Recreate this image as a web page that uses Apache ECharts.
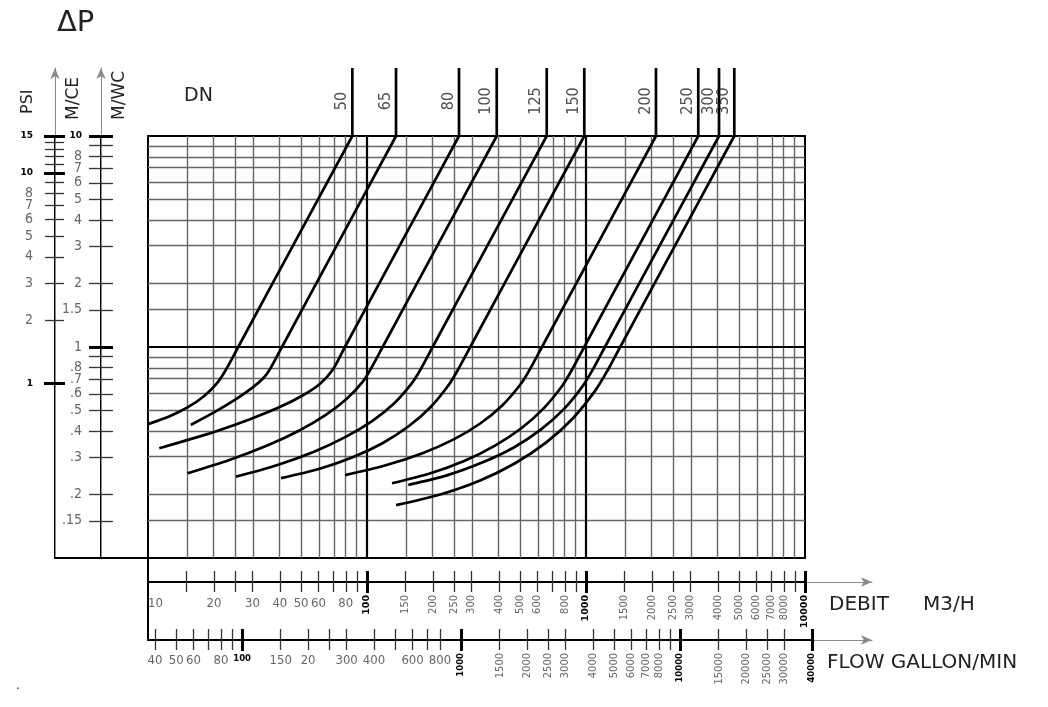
<!DOCTYPE html>
<html><head><meta charset="utf-8">
<script src="https://cdn.jsdelivr.net/npm/echarts@6/dist/echarts.min.js"></script>
<style>html,body{margin:0;padding:0;background:#fff}#c{width:1048px;height:707px}</style>
</head><body><div id="c"></div>
<script>
// ------------------------------------------------------------------ data
const DN_LABELS = ['50','65','80','100','125','150','200','250','300','350'];

// flow (m3/h) and pressure drop (m water column)
const Q_DN50   = [10, 12.56, 15.28, 18.0, 20.53, 22.66, 25.82, 45.6, 85.7];
const DP_DN50  = [0.431, 0.470, 0.520, 0.584, 0.668, 0.778, 1, 2.98, 10];
const Q_DN65   = [15.67, 20.38, 25.23, 29.78, 33.5, 35.87, 40.9, 72.2, 135.7];
const DP_DN65  = [0.427, 0.495, 0.566, 0.638, 0.709, 0.778, 1, 2.98, 10];
const Q_DN80   = [11.26, 15.36, 20.36, 29.44, 39.94, 50.8, 60.7, 69.6, 79.3, 140, 263.1];
const DP_DN80  = [0.331, 0.364, 0.398, 0.456, 0.519, 0.589, 0.666, 0.778, 1, 2.98, 10];
const Q_DN100  = [15.18, 23.71, 35.0, 48.9, 64.6, 80.8, 95.5, 103.4, 117.9, 208.1, 391.2];
const DP_DN100 = [0.252, 0.292, 0.341, 0.401, 0.475, 0.568, 0.684, 0.778, 1, 2.98, 10];
const Q_DN125  = [25.23, 39.03, 57.3, 79.9, 105.9, 133.6, 159.7, 175.0, 199.4, 352.1, 661.6];
const DP_DN125 = [0.243, 0.276, 0.319, 0.375, 0.447, 0.543, 0.670, 0.778, 1, 2.98, 10];
const Q_DN150  = [40.49, 60.26, 85.97, 117.6, 154.4, 194.4, 234.6, 259.8, 296.1, 522.8, 982.2];
const DP_DN150 = [0.239, 0.264, 0.300, 0.350, 0.420, 0.517, 0.655, 0.778, 1, 2.98, 10];
const Q_DN200  = [79.37, 121.7, 177.9, 247.5, 328.8, 415.6, 500.6, 552.1, 629.4, 1111, 2087];
const DP_DN200 = [0.247, 0.275, 0.313, 0.364, 0.434, 0.530, 0.662, 0.778, 1, 2.98, 10];
const Q_DN250  = [130.1, 194.8, 279.3, 384.2, 506.5, 640.4, 776.2, 861.3, 981.8, 1733, 3256];
const DP_DN250 = [0.226, 0.252, 0.289, 0.341, 0.412, 0.512, 0.652, 0.778, 1, 2.98, 10];
const Q_DN300  = [154.4, 233.4, 337.6, 468.1, 621.2, 790.1, 962.0, 1071, 1220, 2154, 4049];
const DP_DN300 = [0.222, 0.247, 0.284, 0.334, 0.406, 0.506, 0.649, 0.778, 1, 2.98, 10];
const Q_DN350  = [135.7, 215.9, 328.5, 476.6, 660.9, 874.1, 1104, 1258, 1433, 2531, 4755];
const DP_DN350 = [0.178, 0.200, 0.233, 0.282, 0.354, 0.461, 0.623, 0.778, 1, 2.98, 10];

const CURVES_Q  = [Q_DN50, Q_DN65, Q_DN80, Q_DN100, Q_DN125, Q_DN150, Q_DN200, Q_DN250, Q_DN300, Q_DN350];
const CURVES_DP = [DP_DN50, DP_DN65, DP_DN80, DP_DN100, DP_DN125, DP_DN150, DP_DN200, DP_DN250, DP_DN300, DP_DN350];

// axis ticks and labels
const MCE_TICKS = [10, 9, 8, 7, 6, 5, 4, 3, 2, 1.5, 1, 0.9, 0.8, 0.7, 0.6, 0.5, 0.4, 0.3, 0.2, 0.15];
const MCE_MAJOR = [10, 1];
const MCE_LABEL_VALUES = [10, 8, 7, 6, 5, 4, 3, 2, 1.5, 1, 0.8, 0.7, 0.6, 0.5, 0.4, 0.3, 0.2, 0.15];
const MCE_LABEL_TEXTS  = ['10','8','7','6','5','4','3','2','1.5','1','.8','.7','.6','.5','.4','.3','.2','.15'];
const MCE_BOLD = [10];

const PSI_TICKS = [15, 14, 13, 12, 11, 10, 9, 8, 7, 6, 5, 4, 3, 2, 1];
const PSI_MAJOR = [15, 10, 1];
const PSI_LABEL_VALUES = [15, 10, 8, 7, 6, 5, 4, 3, 2, 1];
const PSI_LABEL_TEXTS  = ['15','10','8','7','6','5','4','3','2','1'];
const PSI_BOLD = [15, 10, 1];

const M3H_TICKS = [15,20,25,30,40,50,60,70,80,90,150,200,250,300,400,500,600,700,800,900,
                   1500,2000,2500,3000,4000,5000,6000,7000,8000,9000];
const M3H_MAJOR = [100, 1000, 10000];
const M3H_FLAT_LABELS = [20, 30, 40, 50, 60, 80];
const M3H_FIRST_LABEL = [10];
const M3H_ROT_LABELS = [100,150,200,250,300,400,500,600,800,1000,1500,2000,2500,3000,4000,5000,6000,7000,8000,10000];
const M3H_BOLD = [100, 1000, 10000];

const GPM_TICKS = [40,50,60,70,80,90,150,200,250,300,400,500,600,700,800,
                   1500,2000,2500,3000,4000,5000,6000,7000,8000,9000,15000,20000,25000,30000];
const GPM_MAJOR = [100, 1000, 10000, 40000];
const GPM_FLAT_VALUES = [40, 50, 60, 80, 100, 150, 200, 300, 400, 600, 800];
const GPM_FLAT_TEXTS  = ['40','50','60','80','100','150','20','300','400','600','800'];
const GPM_ROT_LABELS = [1000,1500,2000,2500,3000,4000,5000,6000,7000,8000,10000,15000,20000,25000,30000,40000];
const GPM_BOLD = [100, 1000, 10000, 40000];

// grid lines inside the plot
const VGRID_MINOR = M3H_TICKS;
const VGRID_MAJOR = [100, 1000];
const HGRID_MINOR = [9, 8, 7, 6, 5, 4, 3, 2, 1.5, 0.9, 0.8, 0.7, 0.6, 0.5, 0.4, 0.3, 0.2, 0.15];
const HGRID_MAJOR = [1];

// ------------------------------------------------------------------ helpers / layout constants
const L = Math.log10;
const FONT = "'Liberation Sans Narrow','DejaVu Sans Condensed','Liberation Sans',sans-serif";
const TITLE_FONT = "'DejaVu Sans',sans-serif";
const LEADER_TOP_LOG = 1.3223;   // top end of DN leader lines (above the plot frame)
const LABEL_LOG = 1.166;         // DN label centre height
const PSI_MIN_LOG = -0.83;       // PSI scale at frame bottom
const GPM_MIN_LOG = L(40000) - 664 / 219;

function fmtFrom(values, texts, bold) {
  return function (v) {
    let bi = 0, bd = Infinity;
    for (let i = 0; i < values.length; i++) {
      const d = Math.abs(L(values[i]) - v);
      if (d < bd) { bd = d; bi = i; }
    }
    const t = texts ? texts[bi] : String(values[bi]);
    return (bold.indexOf(values[bi]) >= 0 ? '{b|' : '{r|') + t + '}';
  };
}
function rich(rs, bs) {
  return {
    r: {fontFamily: FONT, fontSize: rs, color: '#666'},
    b: {fontFamily: TITLE_FONT, fontSize: bs, fontWeight: 'bold', color: '#000'}
  };
}
function ax(o) {
  return {
    gridIndex: o.grid, type: 'value', min: o.min, max: o.max,
    position: o.position, offset: o.offset || 0,
    splitLine: {show: false}, splitArea: {show: false}, silent: true,
    axisLine: o.line ? {show: true, onZero: false, lineStyle: o.line,
      symbol: o.symbol || ['none', 'none'], symbolSize: o.symbolSize || [7, 11]} : {show: false, onZero: false},
    axisTick: o.ticks ? {show: true, customValues: o.ticks.map(L), length: o.len, inside: !!o.inside,
      lineStyle: {color: o.tickColor || '#333', width: o.tickWidth || 1.3}} : {show: false},
    axisLabel: o.labels ? {show: true, customValues: o.labels.map(L), formatter: o.fmt,
      rotate: o.rotate || 0, margin: o.margin, rich: o.rich, align: o.align,
      hideOverlap: false, showMinLabel: true, showMaxLabel: true} : {show: false}
  };
}

// ------------------------------------------------------------------ grids
const grids = [
  {left: 148, top: 136, width: 657, height: 422, show: true, borderColor: '#000', borderWidth: 2, backgroundColor: 'transparent'}, // 0 plot
  {left: 55,  top: 136, width: 750, height: 422}, // 1 psi thick
  {left: 101, top: 136, width: 704, height: 422}, // 2 m/ce thick
  {left: 55,  top: 68,  width: 750, height: 490}, // 3 psi arrow
  {left: 101, top: 68,  width: 704, height: 490}, // 4 m/ce arrow
  {left: 148, top: 558, width: 724, height: 24},  // 5 m3/h arrow
  {left: 148, top: 558, width: 657, height: 24},  // 6 m3/h thick
  {left: 148, top: 558, width: 724, height: 82},  // 7 gpm arrow
  {left: 148, top: 558, width: 664, height: 82}   // 8 gpm thick
].map(g => Object.assign({containLabel: false, outerBoundsMode: 'none'}, g));

const THICK = {color: '#000', width: 2};
const THIN = {color: '#8a8a8a', width: 1};
const ARROW = ['none', 'arrow'];

const xAxes = [
  ax({grid: 0, min: 1, max: 4, position: 'bottom'}),                      // 0 plot
  ax({grid: 1, min: 0, max: 1, position: 'bottom', line: THICK}),         // 1 frame bottom
  ax({grid: 2, min: 0, max: 1, position: 'bottom'}),                      // 2
  ax({grid: 3, min: 0, max: 1, position: 'bottom'}),                      // 3
  ax({grid: 4, min: 0, max: 1, position: 'bottom'}),                      // 4
  ax({grid: 5, min: 1, max: 1 + 724 * 3 / 657, position: 'bottom', line: THIN, symbol: ARROW, symbolSize: [7, 11]}), // 5
  ax({grid: 6, min: 1, max: 4, position: 'bottom', line: THICK, ticks: M3H_TICKS, len: 10,
      labels: M3H_FLAT_LABELS, fmt: fmtFrom(M3H_FLAT_LABELS, null, M3H_BOLD), margin: 15, rich: rich(13, 9)}), // 6
  ax({grid: 6, min: 1, max: 4, position: 'bottom', ticks: M3H_TICKS, len: 11, inside: true}),            // 7
  ax({grid: 6, min: 1, max: 4, position: 'bottom', ticks: M3H_MAJOR, len: 11, tickWidth: 3, tickColor: '#000',
      labels: M3H_ROT_LABELS, fmt: fmtFrom(M3H_ROT_LABELS, null, M3H_BOLD), rotate: 90, margin: 13, rich: rich(11, 9.5)}), // 8
  ax({grid: 6, min: 1, max: 4, position: 'bottom', ticks: M3H_MAJOR, len: 11, inside: true, tickWidth: 3, tickColor: '#000'}), // 9
  ax({grid: 6, min: 1, max: 4, position: 'bottom', labels: M3H_FIRST_LABEL,
      fmt: fmtFrom(M3H_FIRST_LABEL, null, []), margin: 15, rich: rich(13, 9), align: 'left'}),  // 10
  ax({grid: 7, min: GPM_MIN_LOG, max: GPM_MIN_LOG + 724 / 219, position: 'bottom', line: THIN, symbol: ARROW, symbolSize: [7, 11]}), // 11
  ax({grid: 8, min: GPM_MIN_LOG, max: L(40000), position: 'bottom', line: THICK, ticks: GPM_TICKS, len: 10,
      labels: GPM_FLAT_VALUES, fmt: fmtFrom(GPM_FLAT_VALUES, GPM_FLAT_TEXTS, GPM_BOLD), margin: 14, rich: rich(13, 8.5)}), // 12
  ax({grid: 8, min: GPM_MIN_LOG, max: L(40000), position: 'bottom', ticks: GPM_TICKS, len: 11, inside: true}), // 13
  ax({grid: 8, min: GPM_MIN_LOG, max: L(40000), position: 'bottom', ticks: GPM_MAJOR, len: 11, tickWidth: 3, tickColor: '#000',
      labels: GPM_ROT_LABELS, fmt: fmtFrom(GPM_ROT_LABELS, null, GPM_BOLD), rotate: 90, margin: 13, rich: rich(11, 8.5)}), // 14
  ax({grid: 8, min: GPM_MIN_LOG, max: L(40000), position: 'bottom', ticks: GPM_MAJOR, len: 11, inside: true, tickWidth: 3, tickColor: '#000'}) // 15
];

const yAxes = [
  ax({grid: 0, min: -1, max: 1, position: 'left'}),                                             // 0 plot
  ax({grid: 1, min: PSI_MIN_LOG, max: L(15), position: 'left', line: THICK, ticks: PSI_TICKS, len: 10,
      labels: PSI_LABEL_VALUES, fmt: fmtFrom(PSI_LABEL_VALUES, PSI_LABEL_TEXTS, PSI_BOLD), margin: 22, rich: rich(14, 9)}), // 1
  ax({grid: 1, min: PSI_MIN_LOG, max: L(15), position: 'left', ticks: PSI_TICKS, len: 9, inside: true}),     // 2
  ax({grid: 1, min: PSI_MIN_LOG, max: L(15), position: 'left', ticks: PSI_MAJOR, len: 11, tickWidth: 3, tickColor: '#000'}), // 3
  ax({grid: 1, min: PSI_MIN_LOG, max: L(15), position: 'left', ticks: PSI_MAJOR, len: 10, inside: true, tickWidth: 3, tickColor: '#000'}), // 4
  ax({grid: 2, min: -1, max: 1, position: 'left', line: THICK, ticks: MCE_TICKS, len: 12,
      labels: MCE_LABEL_VALUES, fmt: fmtFrom(MCE_LABEL_VALUES, MCE_LABEL_TEXTS, MCE_BOLD), margin: 19, rich: rich(14, 9)}), // 5
  ax({grid: 2, min: -1, max: 1, position: 'left', ticks: MCE_TICKS, len: 12, inside: true}),    // 6
  ax({grid: 2, min: -1, max: 1, position: 'left', ticks: MCE_MAJOR, len: 12, tickWidth: 3, tickColor: '#000'}), // 7
  ax({grid: 2, min: -1, max: 1, position: 'left', ticks: MCE_MAJOR, len: 12, inside: true, tickWidth: 3, tickColor: '#000'}), // 8
  ax({grid: 3, min: 0, max: 1, position: 'left', line: THIN, symbol: ARROW, symbolSize: [7, 11]}), // 9
  ax({grid: 4, min: 0, max: 1, position: 'left', line: THIN, symbol: ARROW, symbolSize: [7, 11]}), // 10
  ax({grid: 5, min: 0, max: 1, position: 'left'}),  // 11
  ax({grid: 6, min: 0, max: 1, position: 'left'}),  // 12
  ax({grid: 7, min: 0, max: 1, position: 'left'}),  // 13
  ax({grid: 8, min: 0, max: 1, position: 'left', line: THICK})  // 14
];

// ------------------------------------------------------------------ series
const MINOR_LINE = {color: '#666', width: 1.4, type: 'solid'};
const MAJOR_LINE = {color: '#000', width: 2.2, type: 'solid'};
const gridLines = []
  .concat(VGRID_MINOR.map(v => ({xAxis: L(v), lineStyle: MINOR_LINE})))
  .concat(HGRID_MINOR.map(v => ({yAxis: L(v), lineStyle: MINOR_LINE})))
  .concat(VGRID_MAJOR.map(v => ({xAxis: L(v), lineStyle: MAJOR_LINE})))
  .concat(HGRID_MAJOR.map(v => ({yAxis: L(v), lineStyle: MAJOR_LINE})));

const series = [{
  type: 'line', xAxisIndex: 0, yAxisIndex: 0, data: [[1, -1], [4, -1]], symbol: 'none',
  lineStyle: {opacity: 0}, silent: true, z: 1,
  markLine: {silent: true, symbol: ['none', 'none'], label: {show: false}, animation: false, data: gridLines}
}];

CURVES_Q.forEach((qs, i) => {
  const ps = CURVES_DP[i];
  series.push({
    name: 'DN' + DN_LABELS[i], type: 'line', xAxisIndex: 0, yAxisIndex: 0, z: 5,
    data: qs.map((q, k) => [L(q), L(ps[k])]),
    smooth: 0.3, symbol: 'none', clip: false,
    lineStyle: {color: '#000', width: 2.7}
  });
  const qTop = qs[qs.length - 1], pTop = ps[ps.length - 1];
  series.push({
    type: 'line', xAxisIndex: 0, yAxisIndex: 0, z: 5, clip: false, symbol: 'none',
    data: [[L(qTop), L(pTop)], [L(qTop), LEADER_TOP_LOG]],
    lineStyle: {color: '#000', width: 2.7}
  });
});

series.push({
  type: 'scatter', xAxisIndex: 0, yAxisIndex: 0, clip: false, symbolSize: 1, z: 6,
  itemStyle: {color: 'rgba(0,0,0,0)'},
  data: CURVES_Q.map(qs => [L(qs[qs.length - 1]), LABEL_LOG]),
  label: {show: true, position: 'left', distance: 10, rotate: 90, align: 'center', verticalAlign: 'middle',
    formatter: p => DN_LABELS[p.dataIndex], fontFamily: FONT, fontSize: 16, color: '#222'}
});

// ------------------------------------------------------------------ free texts
function vtext(x, y, text, size) {
  return {type: 'text', x: x, y: y, rotation: Math.PI / 2, silent: true,
    style: {text: text, font: size + 'px ' + TITLE_FONT, fill: '#222',
      textAlign: 'left', align: 'left', textVerticalAlign: 'middle', verticalAlign: 'middle'}};
}
function htext(x, y, text, size) {
  return {type: 'text', x: x, y: y, silent: true,
    style: {text: text, font: size + 'px ' + TITLE_FONT, fill: '#222',
      textAlign: 'left', align: 'left', textVerticalAlign: 'middle', verticalAlign: 'middle'}};
}

const option = {
  animation: false,
  backgroundColor: '#fff',
  grid: grids,
  xAxis: xAxes,
  yAxis: yAxes,
  series: series,
  graphic: [
    htext(57, 23, 'ΔP', 29),
    vtext(28, 114, 'PSI', 16),
    vtext(74, 120, 'M/CE', 17),
    vtext(120, 120, 'M/WC', 17),
    htext(184, 96, 'DN', 19),
    htext(829, 605, 'DEBIT', 20),
    htext(923, 605, 'M3/H', 20),
    htext(827, 663, 'FLOW GALLON/MIN', 20),
    htext(16, 686, '.', 12)
  ]
};

const chart = echarts.init(document.getElementById('c'), null, {renderer: 'canvas', width: 1048, height: 707});
chart.setOption(option);
</script>
</body></html>
